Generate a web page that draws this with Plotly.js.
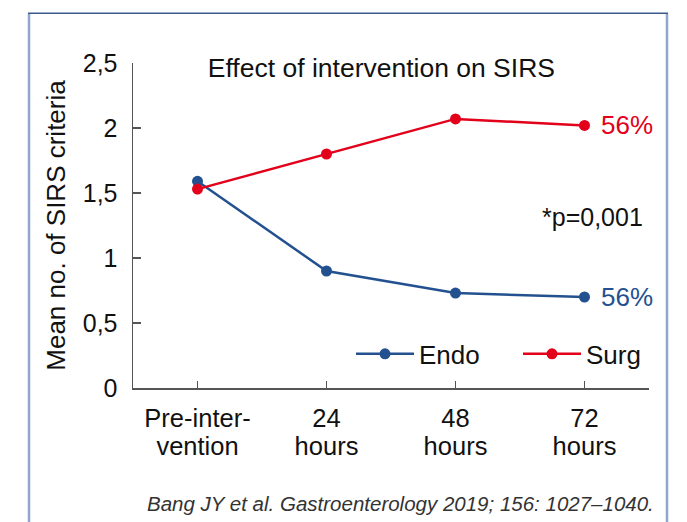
<!DOCTYPE html>
<html>
<head>
<meta charset="utf-8">
<script src="https://cdn.plot.ly/plotly-3.0.1.min.js"></script>
<style>html,body{margin:0;padding:0;background:#fff;}#chart{width:687px;height:522px;}</style>
</head>
<body>
<div id="chart"></div>
<script>
const categoriesLine1 = ["Pre-inter-", "24", "48", "72"];
const categoriesLine2 = ["vention", "hours", "hours", "hours"];
const endoValues = [1.59, 0.9, 0.73, 0.7];
const surgValues = [1.53, 1.8, 2.07, 2.02];
const yTickVals = [0, 0.5, 1, 1.5, 2, 2.5];
const yTickText = ["0", "0,5", "1", "1,5", "2", "2,5"];
const seriesNames = ["Endo", "Surg"];
const endLabels = ["56%", "56%"];
const pLabel = "*p=0,001";

const BLUE = "#235190";
const RED = "#e2001a";
const AX = "#555555";
const FONT = "Liberation Sans, Arial, Helvetica, sans-serif";
const xIdx = categoriesLine1.map((c, i) => i);

const traces = [
  {x: xIdx, y: endoValues, name: seriesNames[0], type: "scatter", mode: "lines+markers", legend: "legend",
   line: {color: BLUE, width: 2.5}, marker: {color: BLUE, size: 11}},
  {x: xIdx, y: surgValues, name: seriesNames[1], type: "scatter", mode: "lines+markers", legend: "legend2",
   line: {color: RED, width: 2.5}, marker: {color: RED, size: 11}},
  // invisible carrier so the second line of category labels (xaxis2) is drawn
  {x: xIdx, y: surgValues, xaxis: "x2", type: "scatter", mode: "markers", showlegend: false,
   marker: {opacity: 0, size: 1}, hoverinfo: "skip"}
];

const legendCommon = {orientation: "h", xanchor: "left", y: 0.105, yanchor: "middle",
  font: {family: FONT, size: 26, color: "#111"}, itemwidth: 58, bgcolor: "rgba(0,0,0,0)", borderwidth: 0};

const layout = {
  width: 687, height: 522,
  margin: {l: 133, r: 38, t: 63, b: 134},
  paper_bgcolor: "#fff", plot_bgcolor: "#fff",
  font: {family: FONT, color: "#111", size: 25},
  title: {text: "Effect of intervention on SIRS", font: {family: FONT, size: 26.5, color: "#111"},
          xref: "paper", x: 0.145, xanchor: "left", yref: "container", y: 1 - 68/522, yanchor: "middle"},
  xaxis: {range: [-0.5, 3.5], tickvals: xIdx, ticktext: categoriesLine1, showgrid: false, zeroline: false,
          showline: true, linecolor: AX, linewidth: 2, ticks: "inside", ticklen: 7, tickwidth: 1.5, tickcolor: AX,
          tickfont: {family: FONT, size: 25.5, color: "#111"}, ticklabelstandoff: 6, fixedrange: true},
  xaxis2: {range: [-0.5, 3.5], overlaying: "x", side: "bottom", anchor: "y", tickvals: xIdx, ticktext: categoriesLine2,
          showgrid: false, zeroline: false, showline: false, ticks: "",
          tickfont: {family: FONT, size: 25.5, color: "#111"}, ticklabelstandoff: 40, fixedrange: true},
  yaxis: {range: [0, 2.5], tickvals: yTickVals, ticktext: yTickText, showgrid: false, zeroline: false,
          showline: true, linecolor: AX, linewidth: 1.5, ticks: "inside", ticklen: 8, tickwidth: 1.5, tickcolor: AX,
          tickfont: {family: FONT, size: 25, color: "#111"}, ticklabelstandoff: 9,
          title: {text: "Mean no. of SIRS criteria", font: {family: FONT, size: 26, color: "#111"}, standoff: 9},
          fixedrange: true},
  showlegend: true,
  legend: Object.assign({}, legendCommon, {x: (351-133)/516}),
  legend2: Object.assign({}, legendCommon, {x: (518-133)/516}),
  annotations: [
    {xref: "x", yref: "y", x: 3, y: surgValues[3], text: endLabels[1], showarrow: false, xanchor: "left", xshift: 14,
     font: {family: FONT, size: 26, color: RED}},
    {xref: "x", yref: "y", x: 3, y: endoValues[3], text: endLabels[0], showarrow: false, xanchor: "left", xshift: 14,
     font: {family: FONT, size: 26, color: BLUE}},
    {xref: "paper", yref: "paper", x: (645-133)/516, y: (388.3-217)/325.6, text: pLabel, showarrow: false,
     xanchor: "right", yanchor: "middle", font: {family: FONT, size: 25, color: "#111"}},
    {xref: "paper", yref: "paper", x: (656-133)/516, y: (388.3-504)/325.6, text: "<i>Bang JY et al. Gastroenterology 2019; 156: 1027–1040.</i>",
     showarrow: false, xanchor: "right", yanchor: "middle", font: {family: FONT, size: 20.5, color: "#333"}}
  ],
  shapes: [
    {type: "line", xref: "paper", yref: "paper", x0: (29-133)/516, x1: (29-133)/516, y0: 1.1527, y1: -0.5,
     line: {color: "#8fa7cf", width: 2.5}},
    {type: "line", xref: "paper", yref: "paper", x0: (667-133)/516, x1: (667-133)/516, y0: 1.1527, y1: -0.5,
     line: {color: "#8fa7cf", width: 2.5}},
    {type: "line", xref: "paper", yref: "paper", x0: (28-133)/516, x1: (668-133)/516, y0: 1.1527, y1: 1.1527,
     line: {color: "#3b5b8f", width: 1.5}}
  ]
};

Plotly.newPlot("chart", traces, layout, {displayModeBar: false, staticPlot: true});
</script>
</body>
</html>
